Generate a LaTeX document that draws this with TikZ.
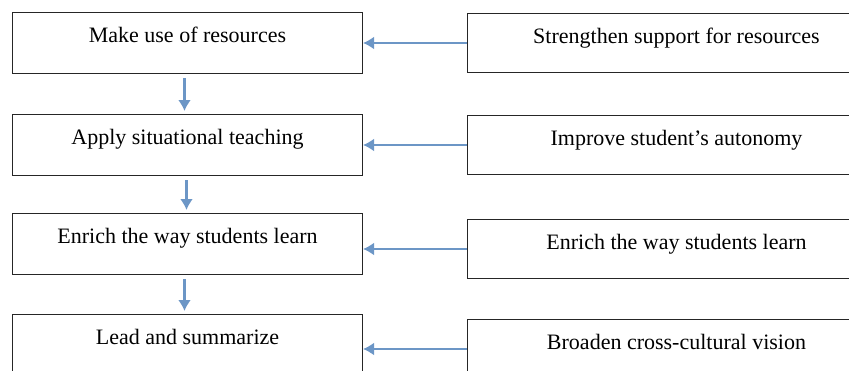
\documentclass[tikz,border=0pt]{standalone}
\usepackage{fontspec}
\setmainfont{Liberation Serif}
\usetikzlibrary{positioning, arrows.meta}
\definecolor{linkblue}{RGB}{108,150,198}

\begin{document}
\begin{tikzpicture}[x=1pt,y=-1pt,node distance=40pt,>={Latex[length=11pt,width=13pt]}]
\tikzstyle{lbox}=[rectangle,draw=black!85,line width=1pt,minimum width=350pt,inner sep=0pt,text height=30pt,text depth=31pt,font=\fontsize{22}{26}\selectfont]
\tikzstyle{rbox}=[rectangle,draw=black!85,line width=1pt,minimum width=418pt,inner sep=0pt,text height=30pt,text depth=29pt,font=\fontsize{22}{26}\selectfont]
\tikzstyle{link}=[->,draw=linkblue,line width=2.8pt]
\useasboundingbox (0,0) rectangle (849,370);
% left column
\node [lbox,anchor=north west] (use) at (12,12) {Make use of resources};
\node [lbox] (apply) [below=40pt of use] {Apply situational teaching};
\node [lbox] (enrich) [below=37pt of apply] {Enrich the way students learn};
\node [lbox] (lead) [below=39pt of enrich] {Lead and summarize};
% right column
\node [rbox] (support) [right=104pt of use] {Strengthen support for resources};
\node [rbox] (autonomy) [below=42pt of support] {Improve student's autonomy};
\node [rbox] (ways) [below=44pt of autonomy] {Enrich the way students learn};
\node [rbox] (vision) [below=40pt of ways] {Broaden cross-cultural vision};
% arrows
\draw [link,shorten <=4pt,shorten >=3pt] ([xshift=-3pt]use.south) -- ([xshift=-3pt]use.south |- apply.north);
\draw [link,shorten <=4pt,shorten >=3pt] ([xshift=-1pt]apply.south) -- ([xshift=-1pt]apply.south |- enrich.north);
\draw [link,shorten <=4pt,shorten >=3pt] ([xshift=-3pt]enrich.south) -- ([xshift=-3pt]enrich.south |- lead.north);
\draw [link] (support.west) -- (support.west -| use.east);
\draw [link] (autonomy.west) -- (autonomy.west -| apply.east);
\draw [link] (ways.west) -- (ways.west -| enrich.east);
\draw [link] (vision.west) -- (vision.west -| lead.east);
\end{tikzpicture}
\end{document}
